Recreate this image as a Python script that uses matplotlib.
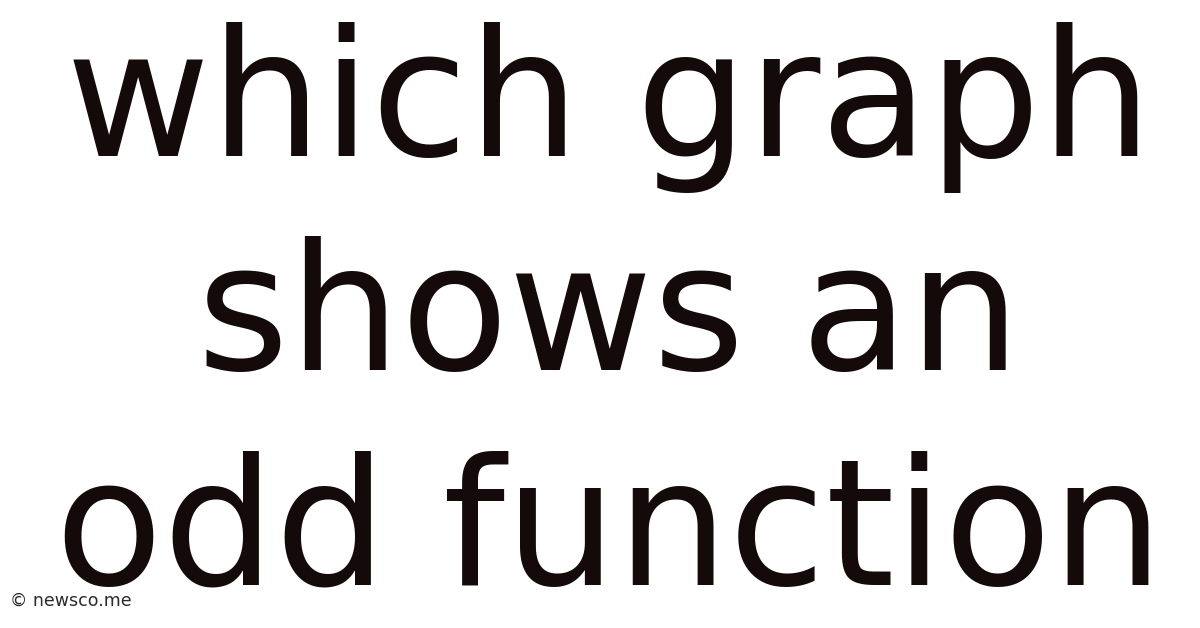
import matplotlib
matplotlib.use("Agg")
import matplotlib.pyplot as plt

lines = ["which graph", "shows an", "odd function"]
baselines = [156, 370, 585]  # pixel rows of each text baseline
watermark = "© newsco.me"

W, H = 1200, 628
fig = plt.figure(figsize=(W / 100, H / 100), dpi=100)
fig.patch.set_facecolor("white")

for txt, yb in zip(lines, baselines):
    fig.text(609 / W, 1 - yb / H, txt, ha="center", va="baseline",
             fontsize=127, color="#140a0a", family="DejaVu Sans")

fig.text(10 / W, 1 - 606 / H, watermark, ha="left", va="baseline",
         fontsize=12.5, color="#2a2a2a", family="DejaVu Sans")

fig.savefig("out.png", dpi=100, facecolor="white")
